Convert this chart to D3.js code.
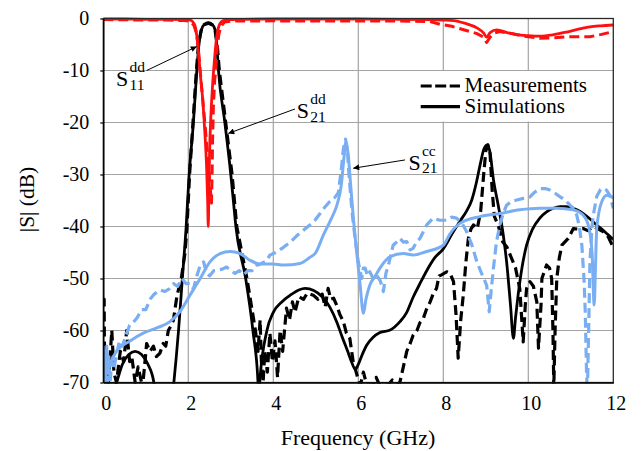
<!DOCTYPE html>
<html>
<head>
<meta charset="utf-8">
<script src="https://cdn.jsdelivr.net/npm/d3@7/dist/d3.min.js"></script>
</head>
<body style="margin:0;background:#fff">
<svg id="fig" width="641" height="451" style="display:block"></svg>
<script>
// Axis ticks
const freqTicks = [0, 2, 4, 6, 8, 10, 12];
const dbTicks = [0, -10, -20, -30, -40, -50, -60, -70];

// |S11dd| - reflection, differential mode [GHz, dB]
const s11ddSim = [[0,-0.1],[0.5,-0.1],[1.0,-0.15],[1.5,-0.15],[1.9,-0.2],[2.05,-0.3],[2.12,-0.8],[2.17,-1.8],
  [2.21,-4],[2.25,-7.5],[2.28,-10.5],[2.34,-15.7],[2.39,-22],[2.43,-28.5],[2.455,-35],[2.47,-40],[2.485,-33],
  [2.5,-26],[2.53,-19],[2.57,-13],[2.62,-7.5],[2.66,-4],[2.7,-2],[2.75,-0.9],[2.82,-0.4],[3,-0.2],[4,-0.1],
  [5,-0.1],[6,-0.1],[7,-0.15],[7.5,-0.2],[8.0,-0.3],[8.24,-0.4],[8.5,-0.9],[8.79,-1.8],[8.95,-2.8],[9.02,-3.6],
  [9.1,-2.7],[9.26,-2.2],[9.5,-2.7],[9.73,-3.1],[10.0,-3.3],[10.27,-3.4],[10.6,-3.1],[10.9,-2.6],[11.2,-2.0],
  [11.45,-1.6],[11.7,-1.4],[12,-1.25]];
const s11ddMeas = [[0,-0.2],[0.5,-0.25],[1.0,-0.3],[1.5,-0.3],[1.9,-0.4],[2.05,-0.5],[2.13,-1.3],[2.18,-2.5],
  [2.22,-4.5],[2.26,-8],[2.3,-12],[2.35,-16.5],[2.4,-21],[2.45,-26],[2.49,-30],[2.52,-33],[2.545,-35.5],
  [2.56,-30],[2.57,-24],[2.59,-17],[2.62,-12],[2.65,-9.5],[2.68,-5.5],[2.72,-3],[2.77,-1.5],[2.85,-0.7],
  [3,-0.5],[4,-0.45],[5,-0.5],[6,-0.5],[7,-0.5],[7.69,-0.6],[7.92,-1.1],[8.2,-1.5],[8.5,-2.2],[8.79,-2.9],
  [8.95,-3.6],[9.02,-4.6],[9.1,-3.6],[9.2,-2.8],[9.33,-2.5],[9.6,-2.9],[9.9,-3.4],[10.27,-3.8],[10.6,-3.7],
  [10.9,-3.5],[11.2,-3.5],[11.45,-3.5],[11.7,-3.1],[12,-2.5]];

// |S21dd| - transmission, differential mode
const s21ddSim = [[0,-78],[0.2,-72],[0.31,-70],[0.45,-66.5],[0.6,-64.6],[0.75,-64],[0.9,-64.6],[1.05,-66.5],
  [1.19,-70],[1.3,-78],[1.55,-78],[1.66,-70],[1.77,-60],[1.86,-50],[1.95,-40],[2.02,-30],[2.12,-20],[2.2,-10],
  [2.25,-5],[2.31,-2.2],[2.38,-1.1],[2.47,-0.8],[2.56,-1.1],[2.63,-2.2],[2.67,-5],[2.71,-10],[2.86,-20],
  [3.0,-30],[3.06,-35],[3.12,-40],[3.35,-50],[3.52,-60],[3.64,-70],[3.66,-78],[3.68,-70],[3.85,-60],[4.0,-56.5],
  [4.2,-54.5],[4.4,-53.2],[4.6,-52.2],[4.75,-51.9],[4.95,-52.3],[5.15,-53.5],[5.33,-55.5],[5.5,-58.5],
  [5.61,-61],[5.75,-64],[5.84,-66],[5.93,-67.5],[6.0,-66.5],[6.1,-64.5],[6.2,-62.8],[6.35,-61.3],[6.51,-60.4],
  [6.75,-59.9],[6.98,-58.3],[7.14,-56.5],[7.29,-53.6],[7.45,-51],[7.61,-48.5],[7.8,-46],[8.0,-44.3],
  [8.2,-41.5],[8.39,-39],[8.55,-37],[8.67,-34.9],[8.78,-31.5],[8.87,-28],[8.96,-25],[9.04,-24.3],[9.1,-25.8],
  [9.18,-31],[9.29,-35.8],[9.4,-41],[9.49,-46.8],[9.58,-55],[9.65,-61.5],[9.7,-57.5],[9.76,-53.2],[9.86,-47.5],
  [9.96,-43.6],[10.1,-40.5],[10.27,-38.4],[10.43,-37.2],[10.59,-36.5],[10.75,-36.2],[10.9,-36.2],[11.06,-36.5],
  [11.22,-37.1],[11.4,-38.2],[11.61,-39.7],[11.8,-41],[12,-42.5]];
const s21ddMeas = [[0,-54.5],[0.02,-54],[0.03,-70],[0.08,-66],[0.12,-70],[0.2,-60],[0.25,-68],[0.31,-70],
  [0.4,-64],[0.48,-66],[0.55,-60],[0.62,-66],[0.67,-65],[0.75,-70],[0.82,-67],[0.9,-70],[0.94,-69.5],
  [1.02,-62.5],[1.1,-64],[1.18,-63],[1.25,-65],[1.33,-64.4],[1.41,-62.5],[1.47,-63],[1.53,-60],[1.6,-59],
  [1.65,-58],[1.73,-53.5],[1.84,-49.7],[1.92,-45.2],[1.97,-40],[2.03,-30],[2.11,-20],[2.19,-10],[2.24,-5],
  [2.3,-2.3],[2.37,-1.2],[2.47,-0.9],[2.56,-1.2],[2.63,-2.3],[2.68,-5],[2.73,-10],[2.88,-20],[3.03,-30],
  [3.14,-40],[3.38,-50],[3.58,-60],[3.64,-64],[3.69,-58],[3.72,-66],[3.76,-70],[3.8,-64],[3.86,-68],
  [3.92,-60.5],[3.98,-66],[4.04,-62],[4.1,-69],[4.16,-60],[4.22,-64],[4.31,-55.7],[4.38,-58],[4.45,-54.5],
  [4.51,-56.5],[4.6,-53.5],[4.71,-54],[4.8,-52.8],[4.94,-53.2],[5.05,-54],[5.15,-53],[5.22,-55.5],[5.29,-51.9],
  [5.35,-54],[5.42,-53.8],[5.49,-55.1],[5.57,-57],[5.65,-58.3],[5.72,-60.5],[5.8,-61.5],[5.88,-66],[5.95,-68],
  [6.0,-69.5],[6.05,-70.5],[6.12,-68],[6.2,-70.5],[6.35,-70.5],[6.42,-69],[6.5,-70.5],[6.7,-70.5],[6.8,-69.5],
  [6.9,-70.5],[6.98,-69.9],[7.06,-67],[7.14,-64],[7.22,-62.5],[7.29,-60.9],[7.38,-60],[7.45,-58.5],[7.53,-57.7],
  [7.6,-56],[7.69,-54.5],[7.76,-53],[7.84,-51.9],[7.9,-49.5],[7.96,-49.3],[8.08,-48.7],[8.16,-49],[8.24,-50.6],
  [8.3,-57],[8.35,-65.3],[8.41,-58],[8.47,-53.2],[8.53,-47],[8.59,-42.3],[8.65,-40.5],[8.71,-39.7],[8.8,-40.4],
  [8.88,-37],[8.95,-30],[9.0,-25.5],[9.05,-24.3],[9.1,-26],[9.15,-33],[9.2,-38],[9.3,-40],[9.4,-43],[9.5,-44],
  [9.6,-46],[9.7,-48],[9.8,-52],[9.88,-62.2],[9.93,-55],[9.96,-51.9],[10.04,-50.6],[10.12,-51.5],[10.2,-54.5],
  [10.24,-63.4],[10.3,-55],[10.32,-50],[10.43,-47.4],[10.5,-48],[10.55,-50],[10.58,-60],[10.6,-71],[10.63,-60],
  [10.67,-50],[10.73,-46],[10.79,-43.6],[10.94,-42.3],[11.06,-40.4],[11.18,-40.5],[11.29,-40.4],[11.4,-40.8],
  [11.53,-40],[11.65,-40.5],[11.76,-41],[11.88,-42],[12,-44]];

// |S21cc| - transmission, common mode
const s21ccSim = [[0,-70],[0.05,-64],[0.1,-68],[0.16,-66.5],[0.31,-64],[0.63,-62],[0.94,-60.5],[1.26,-59.5],
  [1.57,-58.3],[1.8,-56.4],[2.04,-53.2],[2.28,-50],[2.51,-46.8],[2.75,-45.2],[2.98,-44.8],[3.22,-45.2],
  [3.45,-46.5],[3.69,-47.2],[3.98,-47.2],[4.24,-47.4],[4.63,-47.1],[4.85,-46],[5.0,-45],[5.18,-41.6],
  [5.37,-38.4],[5.5,-35.8],[5.6,-32],[5.66,-27],[5.71,-23.8],[5.76,-26],[5.82,-32],[5.88,-38],[5.96,-44.8],
  [6.04,-51],[6.12,-56.7],[6.18,-54],[6.27,-51.3],[6.4,-49.5],[6.51,-48],[6.75,-45.8],[7.06,-45.2],
  [7.29,-45.5],[7.61,-44.8],[8.0,-43.6],[8.15,-41.5],[8.39,-39.4],[8.86,-38.1],[9.33,-37.5],[9.8,-36.8],
  [10.27,-36.5],[10.67,-36.5],[11.06,-36.8],[11.29,-37.8],[11.42,-40],[11.5,-45],[11.55,-55.1],[11.58,-48],
  [11.61,-40.4],[11.73,-35.2],[11.85,-34],[12,-34.5]];
const s21ccMeas = [[0,-63],[0.02,-70],[0.04,-64],[0.06,-70],[0.08,-63],[0.1,-70],[0.13,-65],[0.16,-70],
  [0.2,-66],[0.25,-67.5],[0.3,-65],[0.38,-62],[0.45,-63],[0.55,-60.5],[0.62,-59],[0.7,-58.5],[0.8,-57.5],
  [0.9,-56],[1.0,-56],[1.1,-54],[1.2,-53],[1.33,-52.2],[1.45,-52.5],[1.55,-52],[1.65,-51],[1.75,-51.5],
  [1.85,-50],[1.95,-51],[2.04,-50.9],[2.12,-52],[2.2,-49.5],[2.28,-47.5],[2.36,-46.8],[2.43,-49],[2.5,-49.5],
  [2.6,-48.5],[2.67,-48.4],[2.8,-48.2],[2.9,-47.8],[3.0,-48.5],[3.1,-49],[3.2,-48.5],[3.3,-49.3],[3.4,-48.5],
  [3.5,-48.5],[3.6,-47.5],[3.7,-47.2],[3.84,-46.6],[3.92,-45.5],[4.05,-45],[4.24,-44],[4.4,-43],[4.55,-41.8],
  [4.7,-40.8],[4.86,-39.7],[4.98,-38.8],[5.1,-37.5],[5.22,-36.2],[5.33,-35.2],[5.45,-34.4],[5.53,-33.5],
  [5.6,-29],[5.65,-25],[5.7,-23.2],[5.74,-25],[5.78,-30],[5.85,-37],[5.92,-42],[6.0,-46.8],[6.08,-50],
  [6.12,-48],[6.16,-48],[6.22,-49.5],[6.27,-48.7],[6.35,-50],[6.43,-49.3],[6.52,-50.5],[6.59,-52.5],[6.65,-49],
  [6.71,-47.4],[6.82,-43.6],[6.9,-43],[6.98,-42.3],[7.06,-43],[7.14,-42.9],[7.22,-44.5],[7.29,-44.2],
  [7.37,-43],[7.45,-42.3],[7.53,-41],[7.61,-39.7],[7.76,-38.4],[7.92,-38.8],[8.08,-38.8],[8.2,-38.2],
  [8.31,-38.4],[8.43,-39.2],[8.55,-41],[8.67,-43.5],[8.79,-46.8],[8.9,-49],[9.02,-51.3],[9.08,-56.4],
  [9.13,-52],[9.18,-48],[9.25,-43],[9.33,-39.7],[9.41,-37.5],[9.49,-35.9],[9.6,-35.2],[9.73,-34.9],
  [9.88,-34.6],[10.04,-34.3],[10.15,-33.4],[10.27,-32.7],[10.4,-32.7],[10.51,-33],[10.63,-33.6],[10.75,-34.3],
  [10.88,-35],[10.98,-35.9],[11.06,-36.5],[11.14,-37.8],[11.2,-40],[11.26,-43.6],[11.31,-50],[11.34,-56.4],
  [11.37,-68],[11.39,-72],[11.42,-60],[11.45,-46.8],[11.5,-40],[11.53,-37.8],[11.61,-34.2],[11.7,-32.9],
  [11.76,-32.7],[11.84,-33],[11.92,-34],[12,-36.5]];

const legendLabels = ["Measurements", "Simulations"];

const colors = { s11: "#ff0f0f", s21dd: "#000000", s21cc: "#7aaef3" };

const svg = d3.select("#fig");
const plot = { left: 103.3, right: 613.3, top: 18.5, bottom: 382.5 };

const x = d3.scaleLinear().domain([0, 12]).range([plot.left, plot.right]);
const y = d3.scaleLinear().domain([-70, 0]).range([plot.bottom, plot.top]);

function label(sel) {
  return sel.style("font-family", "'Liberation Serif'").attr("fill", "#000");
}

// grid
const grid = svg.append("g").attr("stroke", "#a3a3a3").attr("stroke-width", 1.2);
grid.selectAll("line.gx").data(freqTicks.filter(d => d > 0 && d < 12)).join("line")
  .attr("x1", d => x(d)).attr("x2", d => x(d)).attr("y1", plot.top).attr("y2", plot.bottom);
grid.selectAll("line.gy").data(dbTicks.filter(d => d < 0 && d > -70)).join("line")
  .attr("x1", plot.left).attr("x2", plot.right).attr("y1", d => y(d)).attr("y2", d => y(d));

// legend background (hides the grid behind the legend)
svg.append("rect").attr("x", 414).attr("y", 71).attr("width", 190).attr("height", 50.5).attr("fill", "#fff");

// curves
svg.append("clipPath").attr("id", "plotclip").append("rect")
  .attr("x", plot.left).attr("y", plot.top - 4)
  .attr("width", plot.right - plot.left).attr("height", plot.bottom - plot.top + 5);

const lineSim = d3.line().x(d => x(d[0])).y(d => y(d[1])).curve(d3.curveMonotoneX);
const lineMeas = d3.line().x(d => x(d[0])).y(d => y(d[1]));

const curves = svg.append("g").attr("clip-path", "url(#plotclip)")
  .attr("fill", "none").attr("stroke-linejoin", "round");

const series = [
  { data: s21ddSim, color: colors.s21dd, dashed: false, w: 2.8 },
  { data: s21ddMeas, color: colors.s21dd, dashed: true, w: 3.2 },
  { data: s21ccSim, color: colors.s21cc, dashed: false, w: 3 },
  { data: s21ccMeas, color: colors.s21cc, dashed: true, w: 3.2 },
  { data: s11ddSim, color: colors.s11, dashed: false, w: 2.8 },
  { data: s11ddMeas, color: colors.s11, dashed: true, w: 3 }
];
series.forEach(s => {
  curves.append("path")
    .attr("d", (s.dashed ? lineMeas : lineSim)(s.data))
    .attr("stroke", s.color)
    .attr("stroke-width", s.w)
    .attr("stroke-dasharray", s.dashed ? "10,5" : null);
});

// frame
svg.append("rect").attr("x", plot.left).attr("y", plot.top)
  .attr("width", plot.right - plot.left).attr("height", plot.bottom - plot.top)
  .attr("fill", "none").attr("stroke", "#2a2a2a").attr("stroke-width", 1.3);

// axes
const yAxis = d3.axisLeft(y).tickValues(dbTicks).tickFormat(d => String(d))
  .tickSizeInner(3).tickSizeOuter(0).tickPadding(11);
const gy = svg.append("g").attr("transform", `translate(${plot.left},0)`).call(yAxis);
gy.select(".domain").attr("stroke", "#000").attr("stroke-width", 1.5);
gy.selectAll(".tick line").attr("stroke", "#000").attr("stroke-width", 1.2);
gy.selectAll(".tick text").attr("font-size", 20).call(label);

const xAxis = d3.axisBottom(x).tickValues(freqTicks).tickFormat(d => String(d))
  .tickSize(0).tickPadding(13.5);
const gx = svg.append("g").attr("transform", `translate(0,${plot.bottom})`).call(xAxis);
gx.select(".domain").attr("stroke", "#000").attr("stroke-width", 1.5);
gx.selectAll(".tick text").attr("font-size", 20).attr("dx", 2.5).call(label);

// axis titles
svg.append("text").attr("x", 358).attr("y", 444.5).attr("text-anchor", "middle")
  .attr("font-size", 22).text("Frequency (GHz)").call(label);
svg.append("text").attr("transform", "translate(34,199.5) rotate(-90)").attr("text-anchor", "middle")
  .attr("font-size", 21.5).text("|S| (dB)").call(label);

// legend
const legend = svg.append("g");
legendLabels.forEach((lab, i) => {
  const ly = 86 + i * 20.7;
  legend.append("line").attr("x1", 420.7).attr("x2", 460).attr("y1", ly).attr("y2", ly)
    .attr("stroke", "#000").attr("stroke-width", 3.2)
    .attr("stroke-dasharray", i === 0 ? "11,3.5" : null);
  legend.append("text").attr("x", 464.5).attr("y", ly + 6).attr("font-size", 21).text(lab).call(label);
});

// annotations: S-parameter names with arrows
const defs = svg.append("defs");
defs.append("marker").attr("id", "arrowhead").attr("viewBox", "0 0 10 10")
  .attr("refX", 10).attr("refY", 5).attr("markerWidth", 8).attr("markerHeight", 6)
  .attr("markerUnits", "userSpaceOnUse").attr("orient", "auto")
  .append("path").attr("d", "M0,0 L10,5 L0,10 Z").attr("fill", "#000");

const annotations = [
  { sub: "11", sup: "dd", lx: 0.3, ly: -13.0, from: [1.02, -10.0], to: [2.2, -5.4] },
  { sub: "21", sup: "dd", lx: 4.55, ly: -19.2, from: [4.51, -17.4], to: [2.94, -22.1] },
  { sub: "21", sup: "cc", lx: 7.18, ly: -29.1, from: [7.1, -27.2], to: [5.88, -28.8] }
];
annotations.forEach(a => {
  svg.append("line")
    .attr("x1", x(a.from[0])).attr("y1", y(a.from[1]))
    .attr("x2", x(a.to[0])).attr("y2", y(a.to[1]))
    .attr("stroke", "#000").attr("stroke-width", 1)
    .attr("marker-end", "url(#arrowhead)");
  const bx = x(a.lx), by = y(a.ly);
  svg.append("text").attr("x", bx).attr("y", by).attr("font-size", 22).text("S").call(label);
  svg.append("text").attr("x", bx + 13.5).attr("y", by - 14).attr("font-size", 15.5).text(a.sup).call(label);
  svg.append("text").attr("x", bx + 13.5).attr("y", by + 3.5).attr("font-size", 15.5).text(a.sub).call(label);
});
</script>
</body>
</html>
